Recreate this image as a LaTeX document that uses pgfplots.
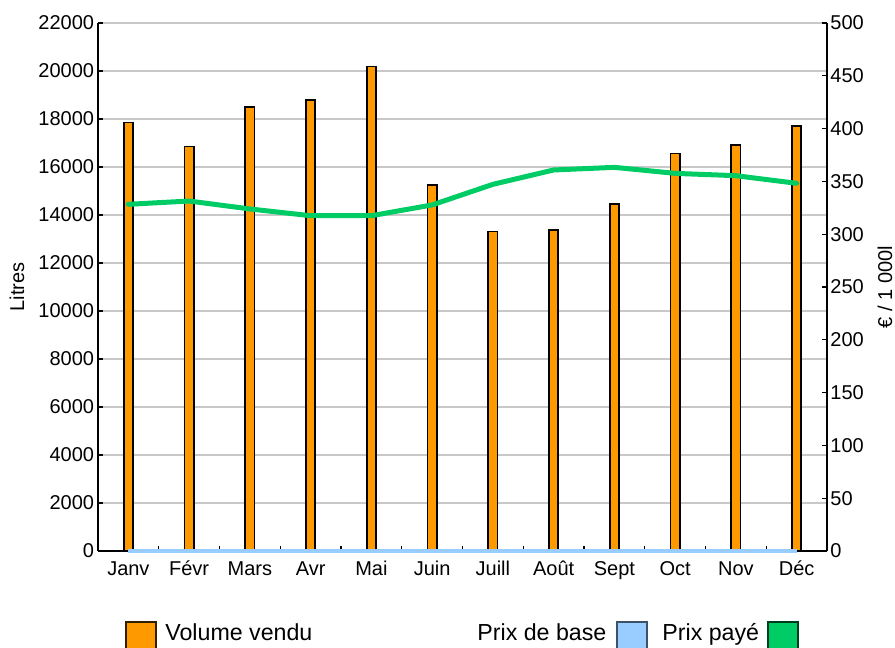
\documentclass[border=0pt]{standalone}
\usepackage{fontspec}
\setmainfont{Liberation Sans}
\usepackage{pgfplots}
\pgfplotsset{compat=1.18}
\definecolor{orangebar}{HTML}{FF9900}
\definecolor{greenline}{HTML}{00CC66}
\definecolor{bluebase}{HTML}{99CCFF}
\definecolor{gridgray}{HTML}{C8C8C8}
\begin{document}
\begin{tikzpicture}
\path[use as bounding box] (0,0) rectangle (447.5pt,324pt);
\clip (0,0) rectangle (447.5pt,324pt);
\begin{axis}[
  at={(49pt,48.5pt)}, anchor=south west,
  scale only axis, width=364.5pt, height=264pt,
  xmin=-0.5, xmax=11.5, ymin=0, ymax=22000,
  axis x line*=bottom, axis y line*=left,
  axis line style={black, line width=0.8pt, -},
  tick align=inside, major tick length=2.5pt,
  tick style={black, line width=0.6pt},
  ytick={0,2000,...,22000},
  scaled y ticks=false,
  /pgf/number format/assume math mode=true,
  /pgf/number format/set thousands separator={},
  ymajorgrids, grid style={gridgray, line width=0.8pt},
  xtick={0.5,1.5,...,10.5}, xticklabels={},
  extra x ticks={0,1,2,3,4,5,6,7,8,9,10,11},
  extra x tick labels={Janv,Févr,Mars,Avr,Mai,Juin,Juill,Août,Sept,Oct,Nov,Déc},
  extra x tick style={major tick length=0pt, grid=none},
  xticklabel style={anchor=base, inner sep=0pt, yshift=-12.5pt, font=\fontsize{10}{12}\selectfont},
  yticklabel style={anchor=east, inner sep=0pt, xshift=-1.75pt, font=\fontsize{10}{12}\selectfont},
  ylabel={Litres},
  every axis y label/.style={at={(axis description cs:-0.111,0.5)}, rotate=90, anchor=center, font=\fontsize{10}{12}\selectfont},
]
\addplot[ybar, bar width=4.6pt, fill=orangebar, draw=black, line width=0.8pt] coordinates {
(0,17850) (1,16850) (2,18500) (3,18800) (4,20180) (5,15240)
(6,13320) (7,13370) (8,14450) (9,16570) (10,16920) (11,17710)};
\end{axis}
\begin{axis}[
  at={(49pt,48.5pt)}, anchor=south west,
  scale only axis, width=364.5pt, height=264pt,
  xmin=-0.5, xmax=11.5, ymin=0, ymax=500,
  axis y line*=right, axis x line=none,
  axis line style={black, line width=0.8pt, -},
  tick align=inside, major tick length=2.5pt,
  tick style={black, line width=0.6pt},
  ytick={0,50,...,500},
  /pgf/number format/assume math mode=true,
  yticklabel style={anchor=west, inner sep=0pt, xshift=1.5pt, font=\fontsize{10}{12}\selectfont},
  ylabel={€ / 1 000l},
  every axis y label/.style={at={(axis description cs:1.0796,0.5)}, rotate=90, anchor=center, font=\fontsize{10}{12}\selectfont},
  clip=false,
]
\addplot[bluebase, line width=1.6pt] coordinates {
(0,0) (1,0) (2,0) (3,0) (4,0) (5,0) (6,0) (7,0) (8,0) (9,0) (10,0) (11,0)};
\addplot[greenline, line width=2.5pt, line cap=round, line join=round] coordinates {
(0,328.3) (1,331.4) (2,323.9) (3,317.5) (4,317.5) (5,327.7)
(6,347.2) (7,360.8) (8,363.3) (9,357.6) (10,355.4) (11,348.2)};
\end{axis}
\draw[fill=orangebar, draw=black!80!orangebar, line width=0.6pt] (63pt,13pt) rectangle (78pt,-2pt);
\node[anchor=base west, inner sep=0pt, font=\fontsize{11.6}{14}\selectfont] at (82.5pt,3.5pt) {Volume vendu};
\node[anchor=base west, inner sep=0pt, font=\fontsize{11.6}{14}\selectfont] at (238.5pt,3.5pt) {Prix de base};
\draw[fill=bluebase, draw=black!60!bluebase, line width=0.6pt] (308.5pt,13pt) rectangle (323.5pt,-2pt);
\node[anchor=base west, inner sep=0pt, font=\fontsize{11.6}{14}\selectfont] at (331pt,3.5pt) {Prix payé};
\draw[fill=greenline, draw=black!70!greenline, line width=0.6pt] (384pt,13pt) rectangle (399pt,-2pt);
\end{tikzpicture}
\end{document}
